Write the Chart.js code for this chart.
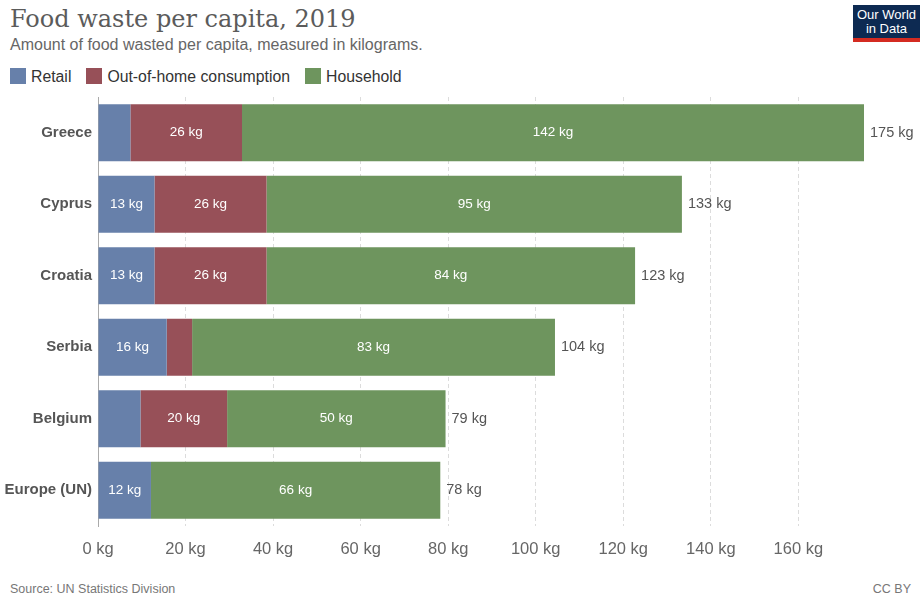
<!DOCTYPE html>
<html>
<head>
<meta charset="utf-8">
<script src="https://cdn.jsdelivr.net/npm/chart.js@4"></script>
<style>
  body { margin: 0; background: #fff; font-family: "Liberation Sans", Arial, sans-serif; }
  #wrap { position: relative; width: 921px; height: 595px; overflow: hidden; }
  #title { position: absolute; left: 10px; top: 5px; font-family: "DejaVu Serif", serif; font-size: 24px; color: #5b5b5b; white-space: nowrap; }
  #subtitle { position: absolute; left: 10px; top: 36px; font-size: 16px; color: #666; white-space: nowrap; }
  #legend { position: absolute; left: 10px; top: 68px; font-size: 15.8px; color: #333; white-space: nowrap; }
  #legend span.item { display: inline-block; margin-right: 15px; }
  #legend i { display: inline-block; width: 16px; height: 16px; vertical-align: -2px; margin-right: 5px; }
  #logo { position: absolute; left: 853px; top: 5px; width: 67px; height: 37px; background: #0d2a52; color: #fff; font-size: 13px; line-height: 14px; text-align: center; box-sizing: border-box; padding-top: 3px; border-bottom: 4px solid #d42b21; }
  #source { position: absolute; left: 10px; top: 582px; font-size: 12.5px; color: #777; }
  #cc { position: absolute; right: 10px; top: 582px; font-size: 12.5px; color: #777; }
  #chartBox { position: absolute; left: 0; top: 82px; width: 921px; height: 488px; }
</style>
</head>
<body>
<div id="wrap">
  <div id="title">Food waste per capita, 2019</div>
  <div id="subtitle">Amount of food wasted per capita, measured in kilograms.</div>
  <div id="legend"></div>
  <div id="logo">Our World<br>in Data</div>
  <div id="chartBox"><canvas id="myChart"></canvas></div>
  <div id="source">Source: UN Statistics Division</div>
  <div id="cc">CC BY</div>
</div>
<script>
const countries = ['Greece', 'Cyprus', 'Croatia', 'Serbia', 'Belgium', 'Europe (UN)'];
const retail = [7.4, 12.9, 12.9, 15.7, 9.7, 12.1];
const outOfHome = [25.5, 25.6, 25.6, 5.8, 19.8, 0];
const household = [142.1, 94.9, 84.2, 82.9, 49.9, 66.1];
const xTicks = [0, 20, 40, 60, 80, 100, 120, 140, 160];

const seriesNames = ['Retail', 'Out-of-home consumption', 'Household'];
const seriesColors = ['#6780aa', '#975058', '#6e955e'];

// legend in html
const legend = document.getElementById('legend');
seriesNames.forEach((name, i) => {
  const s = document.createElement('span');
  s.className = 'item';
  s.innerHTML = '<i style="background:' + seriesColors[i] + '"></i>' + name;
  legend.appendChild(s);
});

const barLabels = {
  id: 'barLabels',
  afterDatasetsDraw(chart) {
    const ctx = chart.ctx;
    ctx.save();
    ctx.font = '13.5px "Liberation Sans", Arial, sans-serif';
    ctx.textBaseline = 'middle';
    chart.data.datasets.forEach((ds, di) => {
      const meta = chart.getDatasetMeta(di);
      meta.data.forEach((bar, i) => {
        const v = ds.data[i];
        if (v < 10) return;
        ctx.fillStyle = '#fff';
        ctx.textAlign = 'center';
        ctx.fillText(Math.round(v) + ' kg', (bar.x + bar.base) / 2, bar.y);
      });
    });
    // totals
    const last = chart.getDatasetMeta(chart.data.datasets.length - 1);
    ctx.font = '14.5px "Liberation Sans", Arial, sans-serif';
    ctx.fillStyle = '#555';
    ctx.textAlign = 'left';
    last.data.forEach((bar, i) => {
      const total = retail[i] + outOfHome[i] + household[i];
      ctx.fillText(Math.round(total) + ' kg', bar.x + 6, bar.y);
    });
    ctx.restore();
  }
};

const ctx = document.getElementById('myChart').getContext('2d');
new Chart(ctx, {
  type: 'bar',
  data: {
    labels: countries,
    datasets: [retail, outOfHome, household].map((d, i) => ({
      label: seriesNames[i],
      data: d,
      backgroundColor: seriesColors[i],
      borderWidth: 0,
      barPercentage: 0.8,
      categoryPercentage: 1
    }))
  },
  options: {
    indexAxis: 'y',
    responsive: true,
    maintainAspectRatio: false,
    animation: false,
    layout: { padding: { top: 6, right: 57, left: 0, bottom: 0 } },
    plugins: {
      legend: { display: false },
      tooltip: { enabled: false }
    },
    scales: {
      x: {
        stacked: true,
        min: 0,
        max: 175,
        afterBuildTicks(scale) {
          scale.ticks = xTicks.map(v => ({ value: v }));
        },
        afterFit(scale) { scale.height = 44; },
        grid: {
          drawTicks: false,
          color: c => (c.tick && c.tick.value === 0) ? 'rgba(0,0,0,0)' : '#dcdcdc'
        },
        border: { display: false, dash: [4, 3] },
        ticks: {
          padding: 14,
          color: '#666',
          font: { size: 16.5, family: '"Liberation Sans", Arial, sans-serif' },
          callback: v => v + ' kg'
        }
      },
      y: {
        stacked: true,
        afterFit(scale) { scale.width = 98; },
        grid: { display: false, drawTicks: false },
        border: { display: true, color: '#aaa', width: 1 },
        ticks: {
          padding: 6,
          color: '#555',
          font: { size: 15, weight: 'bold', family: '"Liberation Sans", Arial, sans-serif' }
        }
      }
    }
  },
  plugins: [barLabels]
});
</script>
</body>
</html>
